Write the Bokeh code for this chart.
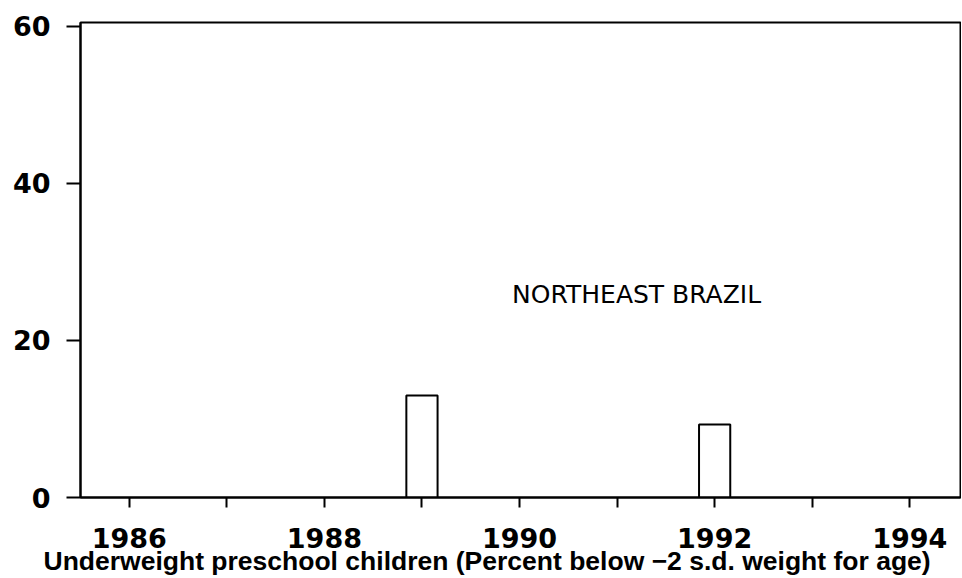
from bokeh.plotting import figure
from bokeh.models import FixedTicker, Label, Title
from bokeh.embed import file_html
from bokeh.resources import INLINE

# Data
years = [1989, 1992]
values = [13.0, 9.3]
x_ticks = [1986, 1987, 1988, 1989, 1990, 1991, 1992, 1993, 1994]
x_tick_labels = {1986: "1986", 1987: "", 1988: "1988", 1989: "", 1990: "1990",
                 1991: "", 1992: "1992", 1993: "", 1994: "1994"}
y_ticks = [0, 20, 40, 60]
region_label = "NORTHEAST BRAZIL"
x_title = "Underweight preschool children (Percent below \u22122 s.d. weight for age)"

p = figure(width=961, height=578, output_backend="svg", toolbar_location=None,
           x_range=(1985.5, 1994.52), y_range=(0, 60.5),
           min_border_left=80, min_border_right=1, min_border_top=22, min_border_bottom=81)

p.vbar(x=years, top=values, bottom=0, width=0.32, fill_color="white",
       line_color="black", line_width=2)

p.xgrid.visible = False
p.ygrid.visible = False
p.outline_line_color = "black"
p.outline_line_width = 2
p.background_fill_color = "white"
p.border_fill_color = "white"

p.xaxis.ticker = FixedTicker(ticks=x_ticks)
p.xaxis.major_label_overrides = {k: v for k, v in x_tick_labels.items()}
p.yaxis.ticker = FixedTicker(ticks=y_ticks)
p.xaxis.minor_tick_line_color = None
p.yaxis.minor_tick_line_color = None

for ax in (p.xaxis[0], p.yaxis[0]):
    ax.axis_line_color = "black"
    ax.axis_line_width = 2
    ax.major_tick_line_color = "black"
    ax.major_tick_line_width = 2
    ax.major_tick_in = 0
    ax.major_label_text_font = "DejaVu Sans"
    ax.major_label_text_font_style = "bold"
    ax.major_label_text_font_size = "27px"
    ax.major_label_text_color = "black"

p.xaxis.major_tick_out = 10
p.xaxis.major_label_standoff = 20
p.yaxis.major_tick_out = 14
p.yaxis.major_label_standoff = 16
p.yaxis.major_label_orientation = "horizontal"

# x-axis title, centred under the whole chart as in the original
p.add_layout(Title(text=x_title, align="left", offset=-37, standoff=-14,
                   text_font="Liberation Sans", text_font_style="bold",
                   text_font_size="26.5px", text_color="black"), "below")

p.add_layout(Label(x=1991.2, y=25.9, text=region_label, text_align="center",
                   text_baseline="middle", text_font="DejaVu Sans",
                   text_font_size="25px", text_color="black"))

open("out.html", "w").write(file_html(p, INLINE))
